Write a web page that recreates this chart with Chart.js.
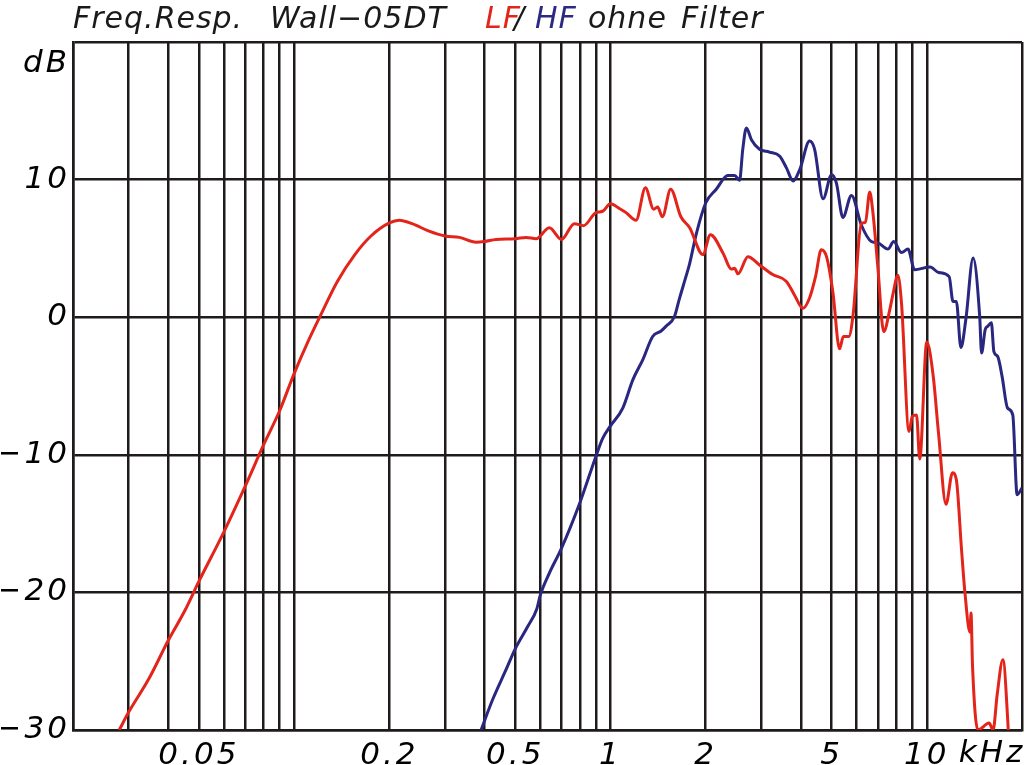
<!DOCTYPE html>
<html>
<head>
<meta charset="utf-8">
<script src="https://cdn.jsdelivr.net/npm/chart.js@4/dist/chart.umd.min.js"></script>
<style>
  html, body { margin: 0; padding: 0; background: #fff; }
  #wrap { width: 1024px; height: 765px; }
</style>
</head>
<body>
<div id="wrap"><canvas id="myChart" width="1024" height="765"></canvas></div>
<script>
// LF curve (red): frequency in kHz, level in dB
var lfFreq = [0.028, 0.03, 0.0347, 0.04, 0.0452, 0.05, 0.06, 0.07, 0.08, 0.09,
    0.1, 0.11, 0.121, 0.137, 0.155, 0.175, 0.2, 0.215, 0.236, 0.267,
    0.3, 0.333, 0.376, 0.4, 0.435, 0.5, 0.541, 0.582, 0.641, 0.7,
    0.769, 0.822, 0.9, 0.945, 1.0, 1.067, 1.12, 1.205, 1.29, 1.37,
    1.41, 1.46, 1.55, 1.67, 1.78, 1.96, 2.07, 2.27, 2.41, 2.47,
    2.53, 2.72, 2.96, 3.26, 3.6, 3.82, 4.06, 4.26, 4.45, 4.64,
    4.82, 5.05, 5.3, 5.45, 5.67, 5.85, 6.21, 6.4, 6.6, 6.75,
    7.0, 7.31, 7.64, 7.83, 8.1, 8.32, 8.79, 9.0, 9.28, 9.5,
    10.0, 10.47, 10.9, 11.5, 12.06, 12.4, 12.88, 13.2, 13.7, 13.8,
    13.95, 14.5, 15.74, 16.2, 16.7, 17.4, 18.1, 19.0]
var lfDb = [-30, -28.7, -26.3, -23.5, -21.3, -19.2, -15.6, -12.3, -9.3, -6.8,
    -4.1, -1.9, 0.1, 2.6, 4.5, 5.9, 6.85, 7.05, 6.8, 6.25,
    5.9, 5.8, 5.45, 5.5, 5.65, 5.7, 5.8, 5.7, 6.5, 5.65,
    6.8, 6.65, 7.6, 7.7, 8.25, 7.9, 7.6, 7.05, 9.4, 7.85,
    8.0, 7.3, 9.3, 7.3, 6.5, 4.55, 6.0, 4.65, 3.5, 3.55,
    3.15, 4.4, 3.8, 3.1, 2.6, 1.6, 0.65, 1.4, 2.95, 4.9,
    4.4, 1.8, -2.3, -1.4, -1.4, 0.2, 6.8, 6.9, 9.1, 7.7,
    3.7, -1.05, 0.55, 1.75, 3.05, 1.0, -8.3, -7.2, -7.1, -10.3,
    -1.8, -4.2, -8.5, -13.6, -11.3, -11.8, -16.9, -20.0, -22.9, -21.5,
    -25.3, -30, -29.5, -30, -27.4, -24.9, -30, -40]

// HF curve (blue)
var hfFreq = [0.39, 0.424, 0.468, 0.5, 0.547, 0.585, 0.6, 0.641, 0.7, 0.8,
    0.9, 0.945, 1.0, 1.094, 1.177, 1.265, 1.36, 1.446, 1.5, 1.594,
    1.65, 1.735, 1.78, 1.87, 2.0, 2.16, 2.35, 2.47, 2.56, 2.62,
    2.69, 2.79, 2.96, 3.18, 3.43, 3.6, 3.78, 3.97, 4.26, 4.42,
    4.7, 5.0, 5.18, 5.43, 5.78, 6.21, 6.68, 7.0, 7.54, 7.86,
    8.32, 8.72, 9.15, 10.24, 10.9, 11.77, 12.1, 12.4, 12.82, 13.3,
    14.01, 14.7, 14.9, 15.3, 15.6, 16.0, 16.3, 16.75, 17.3, 18.0,
    18.7, 19.3, 20]
var hfDb = [-30, -27.8, -25.6, -24.1, -22.5, -21.2, -20.2, -18.6, -16.8, -13.5,
    -10.1, -8.8, -7.9, -6.6, -4.55, -3.1, -1.4, -1.0, -0.65, 0.05,
    1.3, 3.0, 3.9, 6.1, 8.3, 9.3, 10.3, 10.3, 9.95, 12.2,
    13.75, 12.9, 12.2, 12.0, 11.7, 10.85, 9.9, 10.75, 12.8, 12.2,
    8.6, 10.35, 9.75, 7.25, 8.85, 6.7, 5.5, 5.4, 4.95, 5.5,
    4.7, 4.95, 3.45, 3.65, 3.25, 2.95, 1.15, 1.15, -2.2, -0.1,
    4.3, 0.05, -2.6, -0.9, -0.65, -0.4, -2.5, -2.85, -4.3, -6.6,
    -7.1, -12.9, -12.4]

// grid lines / labels
var xTicks = [0.02, 0.03, 0.04, 0.05, 0.06, 0.07, 0.08, 0.09,
    0.1, 0.2, 0.3, 0.4, 0.5, 0.6, 0.7, 0.8, 0.9,
    1, 2, 3, 4, 5, 6, 7, 8, 9, 10, 20]
var xLabels = { 0.05: '0.05', 0.2: '0.2', 0.5: '0.5', 1: '1', 2: '2', 5: '5', 10: '10' }
var yTicks = [-30, -20, -10, 0, 10, 20]
var yLabels = { '-30': '\u221230', '-20': '\u221220', '-10': '\u221210', '0': '0', '10': '10', '20': '' }

// title words with their left x and colour
var titleParts = [
    ['Freq.Resp.', 73, '#1a1a1a'],
    ['Wall\u221205DT', 270, '#1a1a1a'],
    ['LF', 485, '#e3241b'],
    ['/', 514, '#1a1a1a'],
    ['HF', 535, '#2b2a83'],
    ['ohne', 588, '#1a1a1a'],
    ['Filter', 681, '#1a1a1a']
]

var red = '#e3241b'
var blue = '#29277f'
var ink = '#1f1b1c'
var fontFam = '"DejaVu Sans", sans-serif'

function pairs(xs, ys) {
    var out = []
    for (var i = 0; i < xs.length; i++) out.push({ x: xs[i], y: ys[i] })
    return out
}

// extra texts: title, dB, kHz
var textPlugin = {
    id: 'texts',
    beforeDraw: function (chart) {
        chart.ctx.letterSpacing = '3px'
    },
    afterDraw: function (chart) {
        var ctx = chart.ctx
        var area = chart.chartArea
        ctx.save()
        ctx.letterSpacing = '1px'
        ctx.font = 'italic 30px ' + fontFam
        ctx.textBaseline = 'alphabetic'
        ctx.textAlign = 'left'
        titleParts.forEach(function (p) {
            ctx.fillStyle = p[2]
            ctx.fillText(p[0], p[1], 28)
        })
        ctx.font = 'italic 31px ' + fontFam
        ctx.letterSpacing = '3px'
        ctx.fillStyle = '#000'
        ctx.textAlign = 'right'
        ctx.textBaseline = 'middle'
        ctx.fillText('dB', area.left - 3, 64)
        ctx.textAlign = 'left'
        ctx.textBaseline = 'top'
        var xs = chart.scales.x
        ctx.fillText('kHz', xs.getPixelForValue(10) + 32, area.bottom + 8)
        ctx.restore()
    }
}

new Chart('myChart', {
    type: 'scatter',
    data: {
        datasets: [{
            data: pairs(lfFreq, lfDb),
            showLine: true,
            borderColor: red,
            borderWidth: 3,
            pointRadius: 0,
            cubicInterpolationMode: 'monotone'
        }, {
            data: pairs(hfFreq, hfDb),
            showLine: true,
            borderColor: blue,
            borderWidth: 3,
            pointRadius: 0,
            cubicInterpolationMode: 'monotone'
        }]
    },
    options: {
        responsive: false,
        animation: false,
        layout: { padding: { top: 42, right: 2, left: 1, bottom: 0 } },
        plugins: { legend: { display: false }, tooltip: { enabled: false } },
        scales: {
            x: {
                type: 'logarithmic',
                min: 0.02,
                max: 20,
                afterBuildTicks: function (scale) {
                    scale.ticks = xTicks.map(function (v) { return { value: v } })
                },
                afterFit: function (scale) {
                    scale.height = 35
                    scale.paddingLeft = 0
                    scale.paddingRight = 0
                },
                ticks: {
                    autoSkip: false,
                    maxRotation: 0,
                    padding: 7,
                    color: '#000',
                    font: { family: fontFam, size: 31, style: 'italic' },
                    callback: function (v) { return xLabels[v] || '' }
                },
                grid: { color: ink, lineWidth: 2.5, drawTicks: false },
                border: { color: ink, width: 2.5 }
            },
            y: {
                min: -30,
                max: 20,
                afterBuildTicks: function (scale) {
                    scale.ticks = yTicks.map(function (v) { return { value: v } })
                },
                afterFit: function (scale) { scale.width = 72 },
                ticks: {
                    padding: 3,
                    color: '#000',
                    font: { family: fontFam, size: 31, style: 'italic' },
                    callback: function (v) { return yLabels[String(v)] }
                },
                grid: { color: ink, lineWidth: 2.5, drawTicks: false },
                border: { color: ink, width: 2.5 }
            }
        }
    },
    plugins: [textPlugin]
})
</script>
</body>
</html>
